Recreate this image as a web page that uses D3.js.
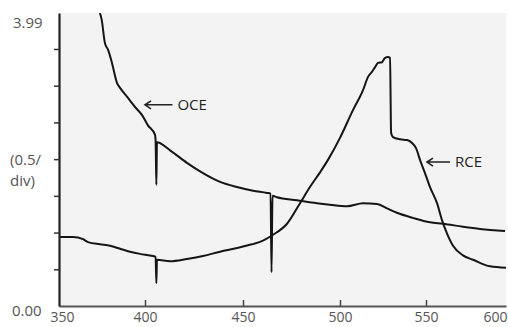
<!DOCTYPE html>
<html>
<head>
<meta charset="utf-8">
<script src="https://cdn.jsdelivr.net/npm/d3@7"></script>
<style>
  html, body { margin: 0; padding: 0; background: #fff; }
  svg { display: block; font-family: "Open Sans", sans-serif; }
</style>
</head>
<body>
<div id="chart"></div>
<script>
// wavelength ticks (nm) and absorbance range
const xTicks = [350, 400, 450, 500, 550, 600];
const yTicks = [0.5, 1.0, 1.5, 2.0, 2.5, 3.0, 3.5];
const yMax = 3.99;

// OCE trace
const oceNm = [373.8, 374.8, 376.7, 378.5, 380.8, 383.7, 385.5, 389.5, 394.2, 398.3, 401.5, 405.1,
  405.4, 405.8, 406.1, 412.8, 421.4, 429.6, 438.3, 446.9, 455.2, 462.4,
  464.2, 464.7, 465.2, 467.5, 477.8, 488.1, 494.8, 504.1, 513.4, 521.5, 527.3, 533.1,
  542.4, 552.5, 560.6, 573.1, 583.8, 599.4];
const oceVal = [3.99, 3.90, 3.58, 3.49, 3.31, 3.04, 2.97, 2.85, 2.71, 2.60, 2.46, 2.33,
  2.26, 1.65, 2.23, 2.12, 1.95, 1.81, 1.69, 1.62, 1.57, 1.54,
  1.53, 0.46, 1.50, 1.48, 1.44, 1.40, 1.38, 1.36, 1.40, 1.39, 1.33, 1.27,
  1.20, 1.14, 1.12, 1.08, 1.05, 1.02];

// RCE trace
const rceNm = [350, 358.1, 364.0, 366.9, 373.8, 379.7, 385.5, 391.3, 397.1, 404.1,
  405.4, 405.8, 406.1, 412.8, 421.4, 429.6, 438.3, 446.9, 454.6, 460.3, 465.5, 472.7,
  479.4, 484.5, 489.7, 493.8, 500, 507.6, 513.4, 516.3, 518.6, 520.3, 522.1, 524.4,
  526.2, 527.9, 529.1, 529.7, 530.8, 534.9, 539.0, 541.9, 544.2, 546.5, 549.4, 552.5,
  556.9, 560.0, 563.1, 566.9, 573.1, 579.4, 590.0, 600];
const rceVal = [0.94, 0.94, 0.91, 0.87, 0.84, 0.82, 0.78, 0.74, 0.71, 0.68,
  0.67, 0.31, 0.63, 0.61, 0.64, 0.68, 0.74, 0.79, 0.84, 0.89, 0.97, 1.12,
  1.40, 1.62, 1.82, 1.99, 2.29, 2.67, 2.94, 3.12, 3.19, 3.25, 3.31, 3.32,
  3.38, 3.39, 3.38, 2.36, 2.30, 2.27, 2.26, 2.22, 2.15, 1.99, 1.81, 1.62,
  1.40, 1.17, 0.99, 0.82, 0.69, 0.63, 0.54, 0.52];

const W = 508, H = 327;
const margin = { top: 13, right: 2, bottom: 21, left: 59 };
const width = W - margin.left - margin.right;
const height = H - margin.top - margin.bottom;

const svg = d3.select("#chart").append("svg")
  .attr("width", W)
  .attr("height", H);

const g = svg.append("g")
  .attr("transform", `translate(${margin.left},${margin.top})`);

// the scanned axis is not evenly spaced, so map each tick to where it sits
const x = d3.scaleLinear()
  .domain(xTicks)
  .range([0, 86, 184, 281, 367, width]);

const y = d3.scaleLinear()
  .domain([0, yMax])
  .range([height, 0]);

g.append("rect")
  .attr("width", width)
  .attr("height", height)
  .attr("fill", "#f3f3f3");

g.append("clipPath").attr("id", "plot-clip")
  .append("rect").attr("width", width).attr("height", height);

const line = d3.line()
  .x(d => x(d[0]))
  .y(d => y(d[1]))
  .curve(d3.curveMonotoneX);

const oce = oceNm.map((n, i) => [n, oceVal[i]]);
const rce = rceNm.map((n, i) => [n, rceVal[i]]);

[oce, rce].forEach(data => {
  g.append("path")
    .datum(data)
    .attr("clip-path", "url(#plot-clip)")
    .attr("fill", "none")
    .attr("stroke", "#151515")
    .attr("stroke-width", 2)
    .attr("stroke-linejoin", "round")
    .attr("d", line);
});

// X axis, ticks point inward
const xAxis = g.append("g")
  .attr("transform", `translate(0,${height})`)
  .call(d3.axisBottom(x).tickValues(xTicks).tickSize(-6).tickSizeOuter(0).tickPadding(6));
xAxis.select(".domain").attr("stroke", "#555").attr("stroke-width", 2);
xAxis.selectAll(".tick line").attr("stroke", "#444").attr("stroke-width", 1.5);
xAxis.selectAll(".tick text")
  .attr("font-size", 14)
  .attr("fill", "#555")
  .attr("font-family", "Open Sans, sans-serif");
xAxis.selectAll(".tick text").filter(d => d === 350).attr("dx", 3);
xAxis.selectAll(".tick text").filter(d => d === 600).attr("dx", -11);
xAxis.selectAll(".tick").filter(d => d === 350 || d === 600).select("line").remove();

// Y axis, unlabeled divisions
const yAxis = g.append("g")
  .call(d3.axisLeft(y).tickValues(yTicks).tickSize(5).tickSizeOuter(0).tickFormat(""));
yAxis.select(".domain").attr("stroke", "#222").attr("stroke-width", 2.2);
yAxis.selectAll(".tick line").attr("stroke", "#333").attr("stroke-width", 1.5);

// y labels
const yLab = svg.append("g")
  .attr("font-size", 15)
  .attr("fill", "#555");
yLab.append("text").attr("x", 13).attr("y", margin.top + y(yMax) + 15).text(yMax.toFixed(2));
yLab.append("text").attr("x", 12).attr("y", margin.top + y(0) + 10).text((0).toFixed(2));
yLab.append("text").attr("x", 10).attr("y", 165).text("(0.5/");
yLab.append("text").attr("x", 10).attr("y", 186).text("div)");

// arrow labels
const notes = [
  { label: "OCE", nm: 400, v: 2.74, tail: 414 },
  { label: "RCE", nm: 550.6, v: 1.96, tail: 565 }
];
notes.forEach(n => {
  const x0 = x(n.nm), x1 = x(n.tail), yy = y(n.v);
  g.append("path")
    .attr("d", `M${x1},${yy}H${x0}M${x0 + 6},${yy - 4}L${x0},${yy}L${x0 + 6},${yy + 4}`)
    .attr("fill", "none")
    .attr("stroke", "#222")
    .attr("stroke-width", 1.6);
  g.append("text")
    .attr("x", x1 + 5)
    .attr("y", yy + 5)
    .attr("font-size", 15)
    .attr("fill", "#222")
    .text(n.label);
});
</script>
</body>
</html>
